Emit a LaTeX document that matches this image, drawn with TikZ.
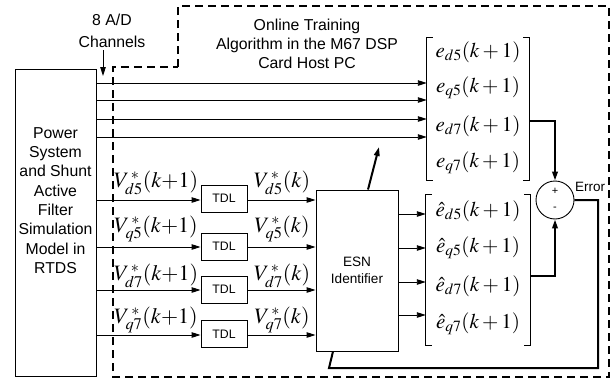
\documentclass[tikz,border=0pt]{standalone}
\usepackage{mathptmx}
\usepackage[no-math]{fontspec}
\setmainfont{Liberation Sans}
\usetikzlibrary{arrows.meta}
\tikzset{
  thin line/.style={line width=0.9pt},
  thick line/.style={line width=2pt},
  arr/.style={-{Triangle[length=9pt,width=5.5pt]}},
  boxx/.style={draw,line width=0.9pt,inner sep=0pt},
  lbl/.style={inner sep=0pt,font=\fontsize{15.8}{19.3}\selectfont,align=center},
  mlab/.style={inner sep=0pt,font=\fontsize{21}{21}\selectfont},
  vlab/.style={inner sep=0pt,font=\fontsize{22}{22}\selectfont},
  dsh/.style={line width=1.1pt,dash pattern=on 8pt off 5pt},
}
\begin{document}
\begin{tikzpicture}[x=1pt,y=-1pt]
\useasboundingbox (0,0) rectangle (611,383);
% dashed region
\draw[dsh] (178,67) -- (178,6) -- (609,6) -- (609,377) -- (113,377) -- (113,67) -- cycle;
% simulation box
\node[boxx,minimum width=81pt,minimum height=307pt] (sim) at (55.5,222.5) {};
\node[lbl] (simtxt) at (55.5,200.5) {Power\\System\\and Shunt\\Active\\Filter\\Simulation\\Model in\\RTDS};
% A/D label
\node[lbl,font=\fontsize{15.8}{22}\selectfont] (ad) at (112,31) {8 A/D\\Channels};
\coordinate (adtip) at (103,76);
\draw[thin line,arr] (103,50) -- (adtip);
% online training label
\node[lbl] (otl) at (307,44) {Online Training\\Algorithm in the M67 DSP\\Card Host PC};
% e vector
\node[inner sep=0pt,minimum width=102pt,minimum height=142pt] (ev) at (478,109) {};
\draw[thin line] ([xshift=6pt]ev.north west) -- (ev.north west) -- (ev.south west) -- ([xshift=6pt]ev.south west);
\draw[thin line] ([xshift=-6pt]ev.north east) -- (ev.north east) -- (ev.south east) -- ([xshift=-6pt]ev.south east);
\node[mlab] (e1) at (478,52) {$e_{d5}(k+1)$};
\node[mlab] (e2) at (478,88) {$e_{q5}(k+1)$};
\node[mlab] (e3) at (478,126) {$e_{d7}(k+1)$};
\node[mlab] (e4) at (478,163) {$e_{q7}(k+1)$};
% A/D lines
\foreach \yy in {83,100,119,137}{
  \draw[thin line,arr] (sim.east |- 0,\yy) -- (ev.west |- 0,\yy);
}
% TDL boxes
\node[boxx,minimum width=46pt,minimum height=27pt,font=\fontsize{12.3}{12.3}\selectfont] (t1) at (224,198.5) {TDL};
\node[boxx,minimum width=46pt,minimum height=27pt,font=\fontsize{12.3}{12.3}\selectfont] (t2) at (224,246.5) {TDL};
\node[boxx,minimum width=46pt,minimum height=27pt,font=\fontsize{12.3}{12.3}\selectfont] (t3) at (224,289.5) {TDL};
\node[boxx,minimum width=46pt,minimum height=27pt,font=\fontsize{12.3}{12.3}\selectfont] (t4) at (224,334) {TDL};
% ESN
\node[boxx,minimum width=82pt,minimum height=161pt,font=\fontsize{13.6}{17}\selectfont,align=center] (esn) at (357,270.5) {ESN\\Identifier};
% inputs
\draw[thin line,arr] (sim.east |- 0,200) -- (t1.west |- 0,200);
\draw[thin line,arr] (sim.east |- 0,247) -- (t2.west |- 0,247);
\draw[thin line,arr] (sim.east |- 0,290) -- (t3.west |- 0,290);
\draw[thin line,arr] (sim.east |- 0,335) -- (t4.west |- 0,335);
\draw[thin line,arr] (t1.east |- 0,200) -- (esn.west |- 0,200);
\draw[thin line,arr] (t2.east |- 0,247) -- (esn.west |- 0,247);
\draw[thin line,arr] (t3.east |- 0,290) -- (esn.west |- 0,290);
\draw[thin line,arr] (t4.east |- 0,335) -- (esn.west |- 0,335);
% V labels
\node[vlab] (v1) at (156,183) {$V_{d5}^{\,*}(k{+}1)$};
\node[vlab] (v2) at (156,229) {$V_{q5}^{\,*}(k{+}1)$};
\node[vlab] (v3) at (156,276) {$V_{d7}^{\,*}(k{+}1)$};
\node[vlab] (v4) at (156,320) {$V_{q7}^{\,*}(k{+}1)$};
\node[vlab] (w1) at (282,183) {$V_{d5}^{\,*}(k)$};
\node[vlab] (w2) at (282,229) {$V_{q5}^{\,*}(k)$};
\node[vlab] (w3) at (282,276) {$V_{d7}^{\,*}(k)$};
\node[vlab] (w4) at (282,320) {$V_{q7}^{\,*}(k)$};
% e-hat vector
\node[inner sep=0pt,minimum width=104pt,minimum height=150pt] (hv) at (478,270) {};
\draw[thin line] ([xshift=6pt]hv.north west) -- (hv.north west) -- (hv.south west) -- ([xshift=6pt]hv.south west);
\draw[thin line] ([xshift=-6pt]hv.north east) -- (hv.north east) -- (hv.south east) -- ([xshift=-6pt]hv.south east);
\node[mlab] (h1) at (478,211) {$\hat{e}_{d5}(k+1)$};
\node[mlab] (h2) at (478,248) {$\hat{e}_{q5}(k+1)$};
\node[mlab] (h3) at (478,286) {$\hat{e}_{d7}(k+1)$};
\node[mlab] (h4) at (478,324) {$\hat{e}_{q7}(k+1)$};
\foreach \yy in {214,248,282,315}{
  \draw[thin line,arr] (esn.east |- 0,\yy) -- (hv.west |- 0,\yy);
}
% summing junction
\node[draw,circle,line width=0.9pt,minimum size=38pt,inner sep=0pt] (sum) at (555,200) {};
\node[inner sep=0pt,font=\fontsize{11}{11}\selectfont] (plus) at (555,191) {+};
\node[inner sep=0pt,font=\fontsize{11}{11}\selectfont] (minus) at (555,209) {-};
\node[inner sep=0pt,font=\fontsize{13.5}{13.5}\selectfont] (err) at (590,187) {Error};
\draw[thick line,arr] (ev.east |- 0,121) -- (555,121) -- (sum.north);
\draw[thick line,arr] (hv.east |- 0,276) -- (555,276) -- (sum.south);
% feedback
\draw[thick line] (sum.east) -- (598,200) -- (598,368) -- (329,368) -- (esn.south -| 333,0);
% training arrow
\draw[thick line,arr] (esn.north -| 368,0) -- (379,147);
\end{tikzpicture}
\end{document}
